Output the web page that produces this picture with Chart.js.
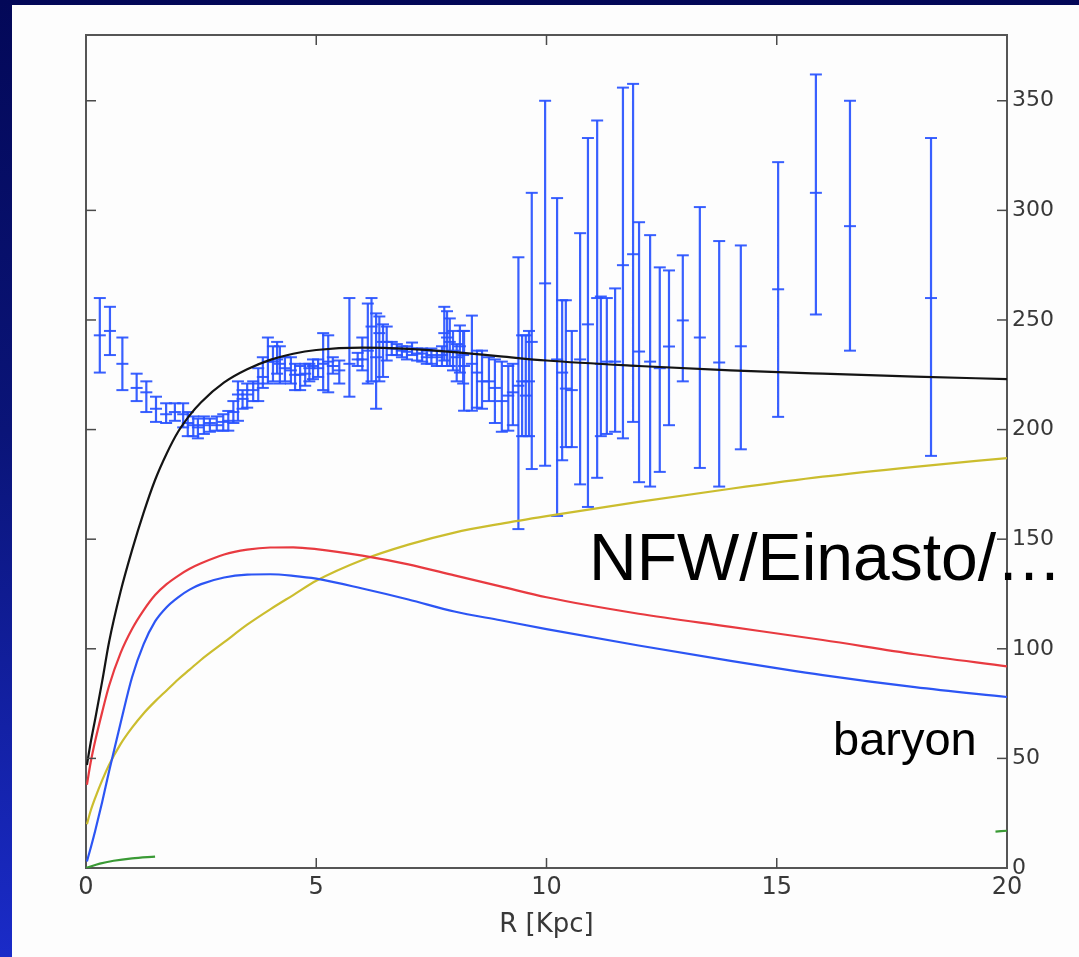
<!DOCTYPE html>
<html><head><meta charset="utf-8">
<script src="https://cdn.jsdelivr.net/npm/chart.js@4.4.1/dist/chart.umd.min.js"></script>
<style>
html,body{margin:0;padding:0;}
body{width:1079px;height:957px;overflow:hidden;position:relative;background:linear-gradient(to bottom,#030858 0%,#0a1478 45%,#1a2bc8 100%);}
#panel{position:absolute;left:12px;top:5px;width:1067px;height:952px;background:#fdfdfd;}
#c{position:absolute;left:0;top:0;}
.ann{position:absolute;font-family:"Liberation Sans",Arial,sans-serif;color:#000;line-height:1;white-space:nowrap;}
</style></head><body>
<div id="panel"><canvas id="c" width="1067" height="952"></canvas>
<div class="ann" style="left:577px;top:519px;font-size:66px;">NFW/Einasto/…</div>
<div class="ann" style="left:821px;top:710px;font-size:47px;">baryon</div>
</div>
<script>
// observed rotation-curve points: radius, velocity, lower and upper error
const R  = [0.30,0.52,0.79,1.10,1.31,1.52,1.74,1.93,2.11,2.21,2.33,2.43,2.56,2.69,2.84,2.98,3.09,3.20,3.30,3.40,3.50,3.63,3.74,3.84,3.95,4.06,4.15,4.21,4.32,4.45,4.54,4.65,4.76,4.85,4.93,5.04,5.15,5.26,5.36,5.50,5.72,5.90,6.00,6.12,6.20,6.30,6.37,6.45,6.53,6.64,6.75,6.86,6.97,7.08,7.19,7.30,7.40,7.50,7.62,7.73,7.78,7.84,7.90,7.97,8.05,8.12,8.19,8.21,8.38,8.49,8.60,8.75,8.88,9.03,9.17,9.27,9.39,9.47,9.55,9.62,9.68,9.97,10.23,10.34,10.42,10.55,10.73,10.90,11.10,11.18,11.31,11.49,11.66,11.88,12.01,12.25,12.46,12.66,12.96,13.33,13.75,14.22,15.03,15.85,16.59,18.35];
const V  = [243,245,230,219,217,209.5,207,208,207,203,202,201,202,203,202,203.5,204,208,216,214,216,218,221,224,231,231,232,230,228,227,225,225,225.5,228,229,228,230,231,229,227,230,232,232,236,247,233,244,240,240,237,237,236,235.5,237,234.7,234.7,233,234,233,234,244,242,240,236,233,238,234,229,230,226,222,222,219,213,215.5,217,220,222,215.5,222,240,266.7,232,226,218.7,218,232,248,260,230,231,231,275,280,235.6,231,228,237.9,249.8,242,230.6,238,264,308,292.8,260];
const LO = [226,234,218,213,208,203.5,203,204,201,197,197,196,198,199,199.5,199.5,199.5,203,204,209.5,210,213,213,219,221,222,225.5,221,222,221,218,218,220,222,223,224,218,217,225.5,221,215,229,227,221,222,209.5,222,224,231.5,234,234,233,232,234,231.5,231,230,230,229,229,231.5,229,229,227,222,226,221,208.6,208.6,210,209.5,213,203,199,199.5,202,154.6,197,197,197,182,183.5,160.6,186,192,192,175,164.7,178,197,198,199,196,203.5,176,174,180.7,202,222,182.5,174,191,205.8,252.5,236,188];
const HI = [260,256,242,225.5,222,215,212,212,212,208,206,205,206,205,206,207,208.5,213,222,218,221,222,228,233,242,238,240,238,233,233,230,229,230,230,232,232,244,243,233,231.5,260,235,242,257.5,260,253,251.6,248,247,240,239,238,238,239.7,237,237,236,237,236,238,256,254,250.7,245,239,247.5,245,245,252,236,236,233,232,231,229,230,278.6,243,243,245,308,350,305.6,259,259,245,289.6,333,341,260.7,260,264.4,356,357.7,294.6,288.7,274,272.6,279.5,301.5,286,284,322,362,350,333];

// model curves
const curveR  = [0.02,0.1,0.2,0.35,0.5,0.75,1,1.25,1.5,1.75,2,2.25,2.5,3,3.5,4,4.5,5,6,7,8,9,10,12,14,16,18,20];
const totalV  = [47,57,68,85,103,126,145,162,177,189,199,206.5,212.5,221.5,227.5,231.8,234.6,236.3,237.4,236.8,235.3,233.4,231.5,229,227,225.5,224.2,223];
const baryonV = [38,48,58,71,83,98,109,117.5,124.5,129.5,133.3,136.5,139,143,145.2,146.2,146.3,145.5,142.5,138.5,133.5,128.5,123.5,116,110,104,97.5,92];
const diskV   = [3,9,17,30,44,66,87,102,112.5,119,123.5,127,129.5,132.5,133.8,134,133.3,132,127.5,122.5,117,113,109,101.5,94.5,88,82.5,78];
const haloV   = [20,26,32,40,47,56.5,64,70.5,76,81,86,90.5,95,103,111,118,124.5,131,140.5,147.5,153,157,160.5,167,173,178.5,183,187];
const gasR    = [0,0.3,0.6,1,1.5,1.6,19.75,20];
const gasV    = [0,2,3.3,4.4,5.2,null,16.6,17];

const xTicks = [0,5,10,15,20];
const yTicks = [0,50,100,150,200,250,300,350];

const pts = (xs, ys) => xs.map((x,i)=>({x, y: ys[i]}));
const barData = [];
R.forEach((r,i)=>{ barData.push({x:r,y:LO[i]},{x:r,y:HI[i]},{x:r,y:null}); });

const EB = 'rgba(40,82,255,0.92)';
const curve = (data,color)=>({type:'scatter',data,showLine:true,borderColor:color,borderWidth:2.2,pointRadius:0,cubicInterpolationMode:'monotone',fill:false,spanGaps:false});

const innerTicks = {
  id:'innerTicks',
  afterDraw(chart){
    const {ctx, chartArea:a, scales} = chart;
    ctx.save(); ctx.strokeStyle='#4a4a4a'; ctx.lineWidth=1.5;
    const ln=(x1,y1,x2,y2)=>{ctx.beginPath();ctx.moveTo(x1,y1);ctx.lineTo(x2,y2);ctx.stroke();};
    xTicks.forEach(v=>{ if(v===0||v===20) return; const px=scales.x.getPixelForValue(v); ln(px,a.bottom,px,a.bottom-10); ln(px,a.top,px,a.top+10); });
    yTicks.forEach(v=>{ if(v===0) return; const py=scales.y.getPixelForValue(v); ln(a.left,py,a.left+10,py); ln(a.right,py,a.right-10,py); });
    ctx.restore();
  }
};

const border = {display:true,color:'#555',width:2};
new Chart(document.getElementById('c'),{
  type:'scatter',
  data:{datasets:[
    curve(pts(curveR,totalV),'#141414'),
    curve(pts(curveR,baryonV),'#e83a40'),
    curve(pts(curveR,diskV),'#2c55f4'),
    curve(pts(curveR,haloV),'#cbbd2e'),
    curve(pts(gasR,gasV),'#3a9a35'),
    {type:'scatter',data:barData,showLine:true,spanGaps:false,borderColor:EB,borderWidth:2.2,pointStyle:'line',pointRadius:6,pointBorderColor:EB,pointBorderWidth:2,tension:0},
    {type:'scatter',data:pts(R,V),showLine:false,pointStyle:'line',pointRadius:6,pointBorderColor:EB,pointBorderWidth:2}
  ]},
  options:{
    responsive:false,animation:false,
    layout:{padding:0},
    plugins:{legend:{display:false},tooltip:{enabled:false}},
    scales:{
      x:{type:'linear',position:'bottom',min:0,max:20,
        afterBuildTicks:s=>{s.ticks=xTicks.map(v=>({value:v}));},
        afterFit:s=>{s.height=89;},
        grid:{display:false,drawTicks:false},border,
        ticks:{font:{family:'DejaVu Sans',size:24},color:'#383838',padding:5,maxRotation:0},
        title:{display:true,text:'R [Kpc]',font:{family:'DejaVu Sans',size:26},color:'#383838',padding:{top:0,bottom:16}}},
      x2:{type:'linear',position:'top',min:0,max:20,
        afterFit:s=>{s.height=30;},
        grid:{display:false,drawTicks:false},border,ticks:{display:false}},
      y:{type:'linear',position:'right',min:0,max:380,
        afterBuildTicks:s=>{s.ticks=yTicks.map(v=>({value:v}));},
        afterFit:s=>{s.width=72;},
        grid:{display:false,drawTicks:false},border,
        ticks:{font:{family:'DejaVu Sans',size:22},color:'#383838',padding:5}},
      yL:{type:'linear',position:'left',min:0,max:380,
        afterFit:s=>{s.width=74;},
        grid:{display:false,drawTicks:false},border,ticks:{display:false}}
    }
  },
  plugins:[innerTicks]
});
</script>
</body></html>
